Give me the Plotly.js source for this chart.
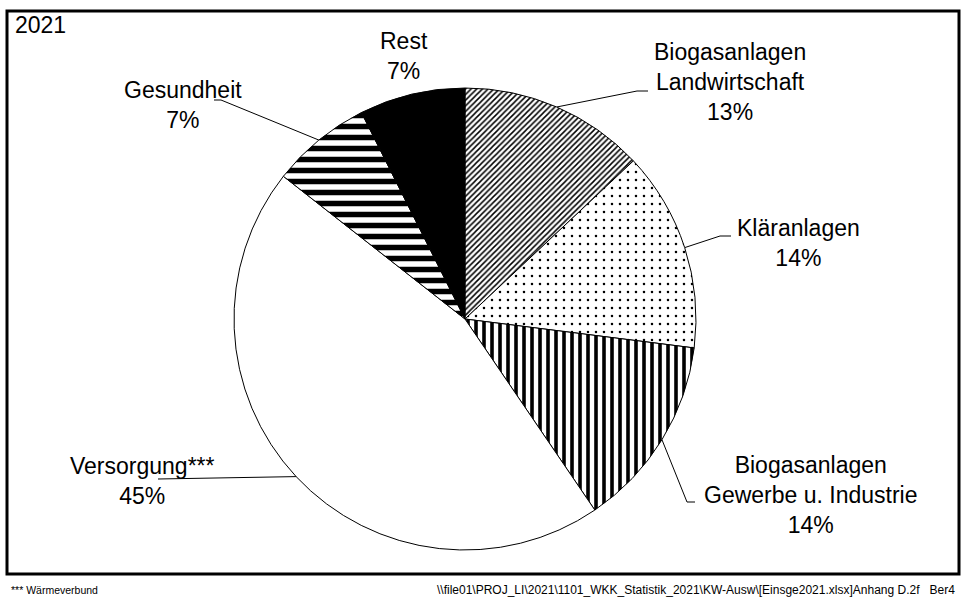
<!DOCTYPE html>
<html>
<head>
<meta charset="utf-8">
<script src="https://cdn.plot.ly/plotly-3.0.1.min.js"></script>
<style>
  html, body { margin: 0; padding: 0; background: #ffffff; }
  #chart { width: 961px; height: 599px; }
</style>
</head>
<body>
<div id="chart"></div>
<script>
// ---- data ----
const yearLabel = '2021';
const categories = ['Biogasanlagen<br>Landwirtschaft', 'Kläranlagen', 'Biogasanlagen<br>Gewerbe u. Industrie', 'Versorgung***', 'Gesundheit', 'Rest'];
const values = [13.0, 14.0, 13.5, 45.1, 7.0, 7.4];
const footnoteLeft = '*** Wärmeverbund';
const footnoteRight = '\\\\file01\\PROJ_LI\\2021\\1101_WKK_Statistik_2021\\KW-Ausw\\[Einsge2021.xlsx]Anhang D.2f&nbsp;&nbsp;&nbsp;Ber4';

// ---- styles ----
const sliceColors = ['#ffffff', '#ffffff', '#ffffff', '#ffffff', '#ffffff', '#000000'];
const patternShapes = ['/', '.', '|', '', '-', ''];
const patternSizes = [4, 8, 8, 8, 11, 8];
const patternSolidity = [0.38, 0.08, 0.45, 0.3, 0.5, 0.3];

// ---- layout geometry (pixels) ----
const W = 961, H = 599;
const cx = 465, cy = 319, R = 231;
const px = x => x / W;
const py = y => 1 - y / H;

// label text centres and leader-line bends (pixels)
const labelPos = [[730, 82], [798, 243], [811, 495], [142, 481], [183, 105], [404, 56]];
const leaderBends = [
  [[637, 91], [648, 91]],
  [[720, 236], [731, 236]],
  [[687, 502], [695, 502]],
  [[158, 479]],
  [[221, 100], [214, 100]],
  null
];

const total = values.reduce((a, b) => a + b, 0);
const pctText = values.map(v => Math.round(v / total * 100) + '%');

const annotations = [];
const shapes = [];
let cum = 0;
values.forEach((v, i) => {
  const mid = (cum + v / 2) / total * 2 * Math.PI;
  cum += v;
  const ex = cx + R * Math.sin(mid);
  const ey = cy - R * Math.cos(mid);
  annotations.push({
    x: px(labelPos[i][0]), y: py(labelPos[i][1]), xref: 'paper', yref: 'paper',
    text: categories[i] + '<br>' + pctText[i], showarrow: false,
    xanchor: 'center', yanchor: 'middle', align: 'center',
    font: { family: 'Liberation Sans, Arial, sans-serif', size: 23, color: '#000' }
  });
  if (leaderBends[i]) {
    let d = 'M ' + px(ex) + ',' + py(ey);
    leaderBends[i].forEach(p => { d += ' L ' + px(p[0]) + ',' + py(p[1]); });
    shapes.push({ type: 'path', xref: 'paper', yref: 'paper', path: d,
      line: { color: '#000', width: 1 }, layer: 'below' });
  }
});

annotations.push({
  x: px(13), y: py(25), xref: 'paper', yref: 'paper', text: yearLabel, showarrow: false,
  xanchor: 'left', yanchor: 'middle',
  font: { family: 'Liberation Sans, Arial, sans-serif', size: 23, color: '#000' }
});
annotations.push({
  x: px(9), y: py(590), xref: 'paper', yref: 'paper', text: footnoteLeft, showarrow: false,
  xanchor: 'left', yanchor: 'middle',
  font: { family: 'Liberation Sans, Arial, sans-serif', size: 10.5, color: '#000' }
});
annotations.push({
  x: px(957), y: py(590), xref: 'paper', yref: 'paper', text: footnoteRight, showarrow: false,
  xanchor: 'right', yanchor: 'middle',
  font: { family: 'Liberation Sans, Arial, sans-serif', size: 12, color: '#000' }
});

// outer frame
shapes.push({ type: 'rect', xref: 'paper', yref: 'paper',
  x0: px(7), x1: px(959), y0: py(574), y1: py(11),
  line: { color: '#000', width: 3 }, fillcolor: 'rgba(0,0,0,0)' });

const trace = {
  type: 'pie',
  labels: categories,
  values: values,
  sort: false,
  direction: 'clockwise',
  rotation: 0,
  textinfo: 'none',
  hoverinfo: 'skip',
  showlegend: false,
  domain: { x: [px(cx - R), px(cx + R)], y: [py(cy + R), py(cy - R)] },
  marker: {
    colors: sliceColors,
    line: { color: '#000', width: 1 },
    pattern: {
      shape: patternShapes,
      size: patternSizes,
      solidity: patternSolidity,
      fgcolor: '#000000',
      fgopacity: 1,
      bgcolor: sliceColors,
      fillmode: 'replace'
    }
  }
};

const layout = {
  width: W, height: H,
  margin: { l: 0, r: 0, t: 0, b: 0 },
  paper_bgcolor: '#ffffff',
  plot_bgcolor: '#ffffff',
  showlegend: false,
  annotations: annotations,
  shapes: shapes
};

Plotly.newPlot('chart', [trace], layout, { displayModeBar: false, staticPlot: true });
</script>
</body>
</html>
